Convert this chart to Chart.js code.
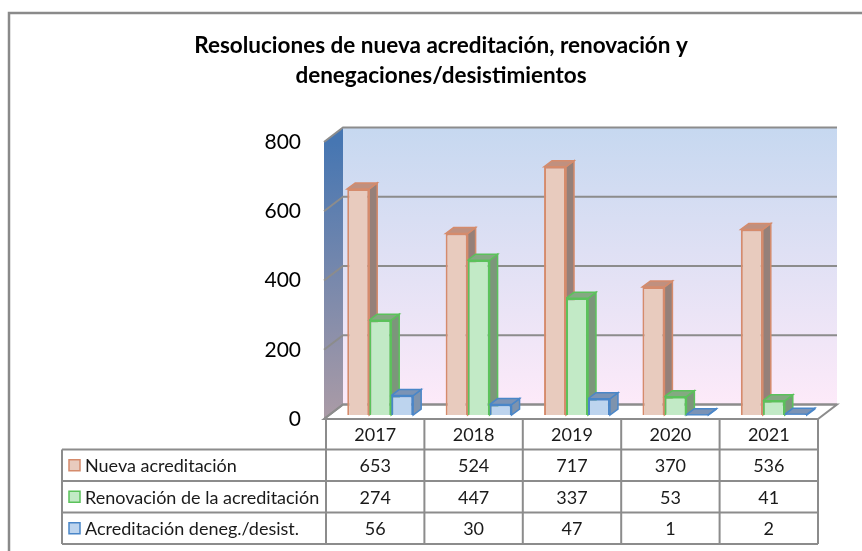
<!DOCTYPE html>
<html>
<head>
<meta charset="utf-8">
<script src="https://cdn.jsdelivr.net/npm/chart.js@4"></script>
<style>
  html, body { margin: 0; padding: 0; background: #fff; }
  #wrap { width: 862px; height: 551px; }
</style>
</head>
<body>
<div id="wrap"><canvas id="resChart" width="862" height="551"></canvas></div>
<script>
// Resoluciones por año
const years = ['2017', '2018', '2019', '2020', '2021'];
const nuevaAcred = [653, 524, 717, 370, 536];
const renovacion = [274, 447, 337, 53, 41];
const denegDesist = [56, 30, 47, 1, 2];
const seriesNames = ['Nueva acreditación', 'Renovación de la acreditación', 'Acreditación deneg./desist.'];
const titleLines = ['Resoluciones de nueva acreditación, renovación y', 'denegaciones/desistimientos'];

const FONT = 'Lato, "Open Sans", sans-serif';
const fills = ['#e8cbbe', '#c2eac6', '#bdd4ee'];
const borders = ['#d58b6c', '#5bc25b', '#4a86c8'];
const sides = ['#958079', '#7c967b', '#7e93ad'];
const tops = ['#c0907f', '#84a982', '#7b93b5'];
const GRID = '#8c8c8c';

// 3d depth of the walls and of the bars
const WALL_DX = 19, WALL_DY = -14.5;
const BAR_DX = 8, BAR_DY = -6;
const SHIFT_X = 5, SHIFT_Y = -4;

const fakeDepth = {
  id: 'fakeDepth',
  beforeDraw(chart) {
    const ctx = chart.ctx;
    ctx.save();
    ctx.fillStyle = '#fff';
    ctx.fillRect(0, 0, chart.width, chart.height);
    // outer frame
    ctx.strokeStyle = '#8a8a8a';
    ctx.lineWidth = 2.5;
    ctx.beginPath();
    ctx.moveTo(9, chart.height + 5);
    ctx.lineTo(9, 13);
    ctx.lineTo(chart.width + 5, 13);
    ctx.stroke();
    // title
    ctx.fillStyle = '#000';
    ctx.font = 'bold 22.5px ' + FONT;
    ctx.textAlign = 'center';
    ctx.textBaseline = 'middle';
    ctx.fillText(titleLines[0], 441, 46);
    ctx.fillText(titleLines[1], 441, 76);
    ctx.restore();
  },
  beforeDatasetsDraw(chart) {
    const ctx = chart.ctx;
    const y = chart.scales.y;
    const a = chart.chartArea;
    const fx = a.left - 2, rx = a.right;
    const bx = fx + WALL_DX;
    const yTop = y.getPixelForValue(800), yBot = y.getPixelForValue(0);

    ctx.save();
    // back wall
    let g = ctx.createLinearGradient(0, yTop + WALL_DY, 0, yBot + WALL_DY);
    g.addColorStop(0, '#c6d8f0');
    g.addColorStop(1, '#fdeaf9');
    ctx.fillStyle = g;
    ctx.fillRect(bx, yTop + WALL_DY, rx + WALL_DX - bx, yBot - yTop);
    // side wall
    g = ctx.createLinearGradient(0, yTop, 0, yBot);
    g.addColorStop(0, '#4676b2');
    g.addColorStop(1, '#ab9ba6');
    ctx.fillStyle = g;
    ctx.beginPath();
    ctx.moveTo(fx, yTop);
    ctx.lineTo(bx, yTop + WALL_DY);
    ctx.lineTo(bx, yBot + WALL_DY);
    ctx.lineTo(fx, yBot);
    ctx.closePath();
    ctx.fill();
    // floor
    ctx.fillStyle = '#fff';
    ctx.strokeStyle = GRID;
    ctx.lineWidth = 2;
    ctx.beginPath();
    ctx.moveTo(fx, yBot);
    ctx.lineTo(bx, yBot + WALL_DY);
    ctx.lineTo(rx + WALL_DX, yBot + WALL_DY);
    ctx.lineTo(rx, yBot);
    ctx.closePath();
    ctx.fill();
    ctx.stroke();
    // grid lines on both walls
    y.ticks.forEach(t => {
      const py = y.getPixelForValue(t.value);
      ctx.strokeStyle = GRID;
      ctx.lineWidth = 2;
      ctx.beginPath();
      ctx.moveTo(fx, py);
      ctx.lineTo(bx, py + WALL_DY);
      ctx.lineTo(rx + WALL_DX, py + WALL_DY);
      ctx.stroke();
    });
    ctx.restore();

    // bar depth faces, then the fronts come from Chart.js in the same shifted frame
    ctx.save();
    ctx.translate(SHIFT_X, SHIFT_Y);
    chart.data.datasets.forEach((ds, di) => {
      chart.getDatasetMeta(di).data.forEach(bar => {
        const p = bar.getProps(['x', 'y', 'base', 'width'], true);
        const l = p.x - p.width / 2, r = p.x + p.width / 2;
        ctx.lineWidth = 1.5;
        ctx.strokeStyle = borders[di];
        ctx.fillStyle = sides[di];
        ctx.beginPath();
        ctx.moveTo(r, p.y);
        ctx.lineTo(r + BAR_DX, p.y + BAR_DY);
        ctx.lineTo(r + BAR_DX, p.base + BAR_DY);
        ctx.lineTo(r, p.base);
        ctx.closePath();
        ctx.fill();
        ctx.stroke();
        ctx.fillStyle = tops[di];
        ctx.beginPath();
        ctx.moveTo(l, p.y);
        ctx.lineTo(l + BAR_DX, p.y + BAR_DY);
        ctx.lineTo(r + BAR_DX, p.y + BAR_DY);
        ctx.lineTo(r, p.y);
        ctx.closePath();
        ctx.fill();
        ctx.stroke();
      });
    });
  },
  afterDatasetsDraw(chart) {
    chart.ctx.restore();
  },
  afterDraw(chart) {
    // data table under the plot
    const ctx = chart.ctx;
    const x = chart.scales.x;
    const a = chart.chartArea;
    const colW = (a.right - a.left) / years.length;
    const rows = [a.bottom, a.bottom + 30.5, a.bottom + 62, a.bottom + 93.5, a.bottom + 125];
    const labelLeft = 62;
    const values = [nuevaAcred, renovacion, denegDesist];

    ctx.save();
    ctx.strokeStyle = GRID;
    ctx.lineWidth = 2;
    ctx.beginPath();
    rows.forEach((ry, i) => {
      ctx.moveTo(i === 0 ? a.left : labelLeft, ry);
      ctx.lineTo(a.right, ry);
    });
    ctx.moveTo(labelLeft, rows[1]);
    ctx.lineTo(labelLeft, rows[4]);
    years.forEach((yr, i) => {
      const cx = x.getPixelForValue(i) - colW / 2;
      ctx.moveTo(cx, rows[0]);
      ctx.lineTo(cx, rows[4]);
    });
    ctx.moveTo(a.right, rows[0]);
    ctx.lineTo(a.right, rows[4]);
    ctx.stroke();

    ctx.fillStyle = '#1a1a1a';
    ctx.font = '18px ' + FONT;
    ctx.textBaseline = 'middle';
    ctx.textAlign = 'center';
    years.forEach((yr, i) => {
      const cx = x.getPixelForValue(i);
      ctx.fillText(yr, cx, (rows[0] + rows[1]) / 2 + 1);
      values.forEach((vals, r) => {
        ctx.fillText(String(vals[i]), cx, (rows[r + 1] + rows[r + 2]) / 2 + 1);
      });
    });
    ctx.textAlign = 'left';
    seriesNames.forEach((name, r) => {
      const cy = (rows[r + 1] + rows[r + 2]) / 2;
      ctx.fillStyle = fills[r];
      ctx.fillRect(69, cy - 5.5, 11, 11);
      ctx.strokeStyle = borders[r];
      ctx.lineWidth = 1.5;
      ctx.strokeRect(69, cy - 5.5, 11, 11);
      ctx.fillStyle = '#1a1a1a';
      ctx.fillText(name, 85, cy + 1);
    });
    ctx.restore();
  }
};

const ctx = document.getElementById('resChart').getContext('2d');
const resChart = new Chart(ctx, {
  type: 'bar',
  data: {
    labels: years,
    datasets: [
      { label: seriesNames[0], data: nuevaAcred, backgroundColor: fills[0], borderColor: borders[0], borderWidth: 2 },
      { label: seriesNames[1], data: renovacion, backgroundColor: fills[1], borderColor: borders[1], borderWidth: 2 },
      { label: seriesNames[2], data: denegDesist, backgroundColor: fills[2], borderColor: borders[2], borderWidth: 2 }
    ]
  },
  options: {
    responsive: false,
    animation: false,
    categoryPercentage: 0.67,
    barPercentage: 1,
    layout: { padding: { left: 250, right: 44, top: 142, bottom: 132 } },
    plugins: {
      legend: { display: false },
      title: { display: false },
      tooltip: { enabled: false }
    },
    scales: {
      x: { display: false },
      y: {
        min: 0,
        max: 800,
        afterFit(scale) { scale.width = 76; },
        grid: { display: false },
        border: { display: false },
        ticks: {
          stepSize: 200,
          padding: 17,
          color: '#000',
          font: { family: FONT, size: 21 }
        }
      }
    }
  },
  plugins: [fakeDepth]
});
</script>
</body>
</html>
